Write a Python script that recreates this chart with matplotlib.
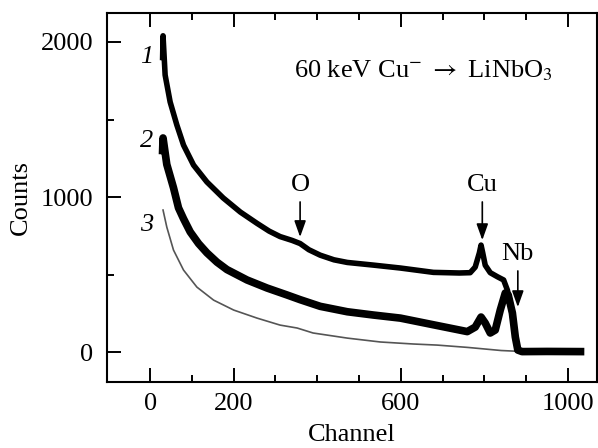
import matplotlib.pyplot as plt
from matplotlib.ticker import MultipleLocator, FixedLocator

plt.rcParams['font.family'] = ['Liberation Serif', 'DejaVu Serif']
plt.rcParams['mathtext.fontset'] = 'stix'

# spectrum 1
ch1 = [30, 31, 36, 48, 64, 80, 104, 136, 175, 216, 256, 285, 311, 340, 359,
       380, 407, 440, 472, 534, 599, 678, 740, 766, 778, 788, 792, 796, 802,
       814, 831, 846, 855, 862, 870, 876, 882, 890, 1030]
cnt1 = [1900, 2040, 1787, 1613, 1465, 1335, 1206, 1097, 994, 903, 830, 780,
        745, 720, 700, 660, 625, 595, 578, 561, 542, 514, 510, 512, 548, 640,
        690, 640, 560, 512, 486, 465, 400, 320, 180, 60, 10, 3, 3]

# spectrum 2
ch2 = [30, 31, 40, 56, 68, 80, 96, 116, 136, 160, 184, 232, 280, 328, 359,
       407, 472, 534, 599, 678, 759, 778, 792, 802, 814, 826, 838, 850, 857,
       867, 874, 880, 890, 950, 1030]
cnt2 = [1300, 1381, 1210, 1060, 930, 860, 775, 700, 640, 580, 532, 465, 413,
        368, 338, 295, 260, 239, 219, 176, 132, 161, 226, 187, 123, 142, 271,
        381, 368, 252, 97, 13, 3, 4, 3]

# spectrum 3
ch3 = [31, 40, 56, 80, 112, 152, 200, 256, 311, 352, 390, 472, 551, 630, 687,
       760, 840, 880]
cnt3 = [916, 806, 658, 529, 419, 335, 271, 219, 174, 155, 123, 90, 65, 52, 45,
        30, 10, 5]

fig = plt.figure(figsize=(5.98, 4.48), dpi=100)
ax = fig.add_axes([0.179, 0.147, 0.819, 0.824])

ax.plot(ch3, cnt3, color='#555555', lw=1.2)
ax.plot(ch2, cnt2, color='black', lw=5.5, solid_joinstyle='round')
ax.plot(ch1, cnt1, color='black', lw=4.0, solid_joinstyle='round')

ax.set_xlim(-103, 1069)
ax.set_ylim(-194, 2187)

ax.xaxis.set_major_locator(FixedLocator([0, 200, 600, 1000]))
ax.xaxis.set_minor_locator(FixedLocator([100, 300, 400, 500, 700, 800, 900]))
ax.yaxis.set_major_locator(MultipleLocator(1000))
ax.yaxis.set_minor_locator(MultipleLocator(500))
ax.tick_params(which='both', direction='in', top=True, right=False,
               labelsize=19, width=1.4)
ax.tick_params(which='major', length=10, pad=8)
ax.tick_params(which='minor', length=5)
ax.tick_params(axis='y', which='major', pad=10)
for s in ax.spines.values():
    s.set_linewidth(1.5)

ax.set_xlabel('Channel', fontsize=19, labelpad=6)
ax.set_ylabel('Counts', fontsize=19, labelpad=6)

ax.text(655, 1815, r'60 keV Cu$^{-}$ $\rightarrow$ LiNbO$_3$', fontsize=19,
        ha='center', va='center')

for lab, y in [('1', 1903), ('2', 1361), ('3', 819)]:
    ax.text(-8, y, lab, fontsize=19, style='italic', ha='center', va='center')

arrow = dict(arrowstyle='-|>,head_length=0.7,head_width=0.25', color='black',
             lw=1.2, mutation_scale=14, shrinkA=2, shrinkB=0)
ax.annotate('O', xy=(359, 742), xytext=(359, 1075), ha='center', va='center',
            fontsize=19, arrowprops=arrow)
ax.annotate('Cu', xy=(795, 722), xytext=(795, 1075), ha='center', va='center',
            fontsize=19, arrowprops=arrow)
ax.annotate('Nb', xy=(880, 290), xytext=(880, 630), ha='center', va='center',
            fontsize=19, arrowprops=arrow)

fig.savefig('out.png', dpi=100)
